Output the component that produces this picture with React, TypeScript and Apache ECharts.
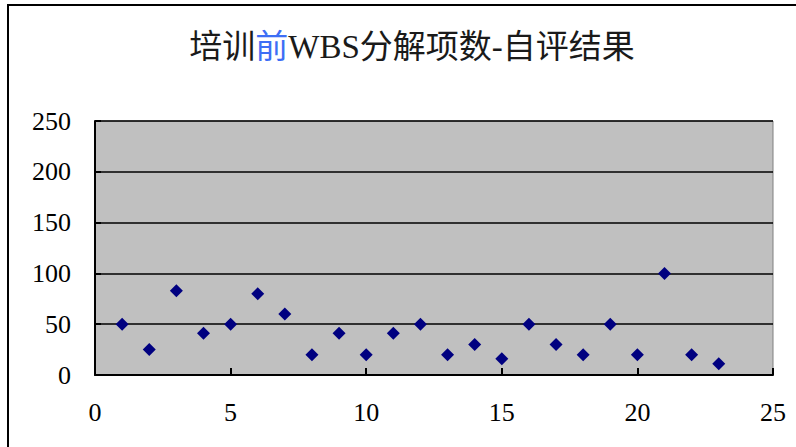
import React, { useEffect, useRef } from "react";
import * as echarts from "echarts";

const xValues = [1, 2, 3, 4, 5, 6, 7, 8, 9, 10, 11, 12, 13, 14, 15, 16, 17, 18, 19, 20, 21, 22, 23];
const yValues = [50, 25, 83, 41, 50, 80, 60, 20, 41, 20, 41, 50, 20, 30, 16, 50, 30, 20, 50, 20, 100, 20, 11];
const titleParts = ["培训", "前", "WBS分解项数-自评结果"];

export default function App() {
  const ref = useRef<HTMLDivElement>(null);
  useEffect(() => {
    if (!ref.current) return;
    const chart = echarts.init(ref.current, null, { renderer: "svg" });
    const serif = "'Liberation Serif', 'Noto Sans CJK SC', serif";
    chart.setOption({
      animation: false,
      backgroundColor: "#ffffff",
      title: {
        text: `{a|${titleParts[0]}}{b|${titleParts[1]}}{a|${titleParts[2]}}`,
        left: 407,
        textAlign: "center",
        top: 25,
        textStyle: {
          rich: {
            a: { fontFamily: serif, fontSize: 33, color: "#1a1a1a", fontWeight: "normal" },
            b: { fontFamily: serif, fontSize: 33, color: "#3D6EF5", fontWeight: "normal" },
          },
        },
      },
      graphic: [
        {
          type: "polyline",
          silent: true,
          shape: { points: [[8, 460], [8, 5], [810, 5]] },
          style: { stroke: "#000000", lineWidth: 2, fill: "none" },
        },
      ],
      grid: {
        left: 95,
        top: 121,
        right: 23,
        bottom: 72,
        show: true,
        backgroundColor: "#C0C0C0",
        borderColor: "#808080",
        borderWidth: 1,
      },
      xAxis: {
        type: "value",
        min: 0,
        max: 25,
        interval: 5,
        axisLine: { show: true, onZero: false, lineStyle: { color: "#000000", width: 2 } },
        axisTick: { show: true, inside: true, length: 7, lineStyle: { color: "#000000", width: 2 } },
        splitLine: { show: false },
        axisLabel: { fontFamily: serif, fontSize: 26, color: "#000000", margin: 24 },
      },
      yAxis: {
        type: "value",
        min: 0,
        max: 250,
        interval: 50,
        axisLine: { show: true, onZero: false, lineStyle: { color: "#000000", width: 2 } },
        axisTick: { show: true, inside: true, length: 6, lineStyle: { color: "#000000", width: 2 } },
        splitLine: { show: true, lineStyle: { color: "#000000", width: 1.5 } },
        axisLabel: { fontFamily: serif, fontSize: 26, color: "#000000", margin: 24 },
      },
      series: [
        {
          type: "scatter",
          symbol: "diamond",
          symbolSize: 13,
          itemStyle: { color: "#000080", opacity: 1 },
          data: xValues.map((x, i) => [x, yValues[i]]),
        },
      ],
    });
    return () => chart.dispose();
  }, []);
  return (
    <div
      ref={ref}
      style={{ position: "absolute", left: 0, top: 0, width: 796, height: 447 }}
    />
  );
}
